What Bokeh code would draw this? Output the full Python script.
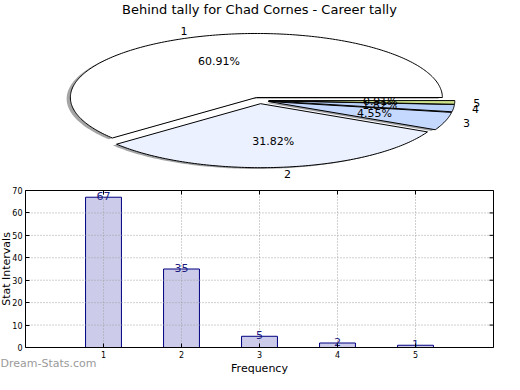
import numpy as np
from bokeh.plotting import figure
from bokeh.models import ColumnDataSource, Range1d, FixedTicker, Label
from bokeh.layouts import column
from bokeh.embed import file_html
from bokeh.resources import INLINE
from bokeh.core.properties import value

# ---------------- data ----------------
title_text = "Behind tally for Chad Cornes - Career tally"
categories = ["1", "2", "3", "4", "5"]
counts = [67, 35, 5, 2, 1]
slice_colors = ["#ffffff", "#ebf1ff", "#c5d8fd", "#b9d1f9", "#cfe38a"]
bar_x = [1, 2, 3, 4, 5]
x_ticks = [1, 2, 3, 4, 5]
y_ticks = [0, 10, 20, 30, 40, 50, 60, 70]
x_lim = (0, 6)
y_lim = (0, 70)
x_axis_title = "Frequency"
y_axis_title = "Stat Intervals"
watermark = "Dream-Stats.com"

FONT = "DejaVu Sans"
W = 504
H1 = 180
H2 = 194

# ---------------- pie ----------------
explode = 0.05
rx_px, ry_px = 186.0, 64.0
cx_px, cy_px = 259.0, 100.0

p1 = figure(width=W, height=H1, output_backend="svg", toolbar_location=None,
            x_range=Range1d(-cx_px / rx_px, (W - cx_px) / rx_px),
            y_range=Range1d(-(H1 - cy_px) / ry_px, cy_px / ry_px),
            x_axis_type=None, y_axis_type=None,
            min_border_left=0, min_border_right=0, min_border_top=0, min_border_bottom=0)
p1.grid.visible = False
p1.outline_line_color = None
p1.background_fill_color = "white"
p1.border_fill_color = "white"

total = float(sum(counts))
fracs = [c / total for c in counts]
edges = np.concatenate([[0.0], np.cumsum(fracs)]) * 2 * np.pi

wx, wy, sx, sy, shadow_cols = [], [], [], [], []
lab_x, lab_y, lab_align = [], [], []
pct_x, pct_y, pct_txt = [], [], []
for i, c in enumerate(counts):
    t1, t2 = edges[i], edges[i + 1]
    tm = 0.5 * (t1 + t2)
    ox, oy = explode * np.cos(tm), explode * np.sin(tm)
    n = max(int(np.degrees(t2 - t1)), 2) + 2
    arc = np.linspace(t1, t2, n)
    xs = [ox] + list(ox + np.cos(arc)) + [ox]
    ys = [oy] + list(oy + np.sin(arc)) + [oy]
    wx.append(xs)
    wy.append(ys)
    sx.append([v - 0.02 for v in xs])
    sy.append([v - 0.02 for v in ys])
    h = slice_colors[i].lstrip("#")
    r, g, b = (int(h[k:k + 2], 16) for k in (0, 2, 4))
    shadow_cols.append("#%02x%02x%02x" % (int(r * 0.3), int(g * 0.3), int(b * 0.3)))
    xt = ox + 1.1 * np.cos(tm)
    yt = oy + 1.1 * np.sin(tm)
    lab_x.append(xt)
    lab_y.append(yt)
    lab_align.append("left" if xt > 0 else "right")
    pct_x.append(ox + 0.6 * np.cos(tm))
    pct_y.append(oy + 0.6 * np.sin(tm))
    pct_txt.append("%.2f%%" % (100.0 * c / total))

p1.patches(xs="xs", ys="ys", fill_color="c", fill_alpha=0.5, line_color=None,
           source=ColumnDataSource(dict(xs=sx, ys=sy, c=shadow_cols)))
p1.patches(xs="xs", ys="ys", fill_color="c", line_color="black", line_width=1,
           source=ColumnDataSource(dict(xs=wx, ys=wy, c=slice_colors)))

p1.text(x="x", y="y", text="t", text_align="a", text_baseline="middle",
        text_font=value(FONT), text_font_size="11px", text_color="black",
        source=ColumnDataSource(dict(x=lab_x, y=lab_y, t=categories, a=lab_align)))
p1.text(x="x", y="y", text="t", text_align="center", text_baseline="middle",
        text_font=value(FONT), text_font_size="11px", text_color="black",
        source=ColumnDataSource(dict(x=pct_x, y=pct_y, t=pct_txt)))

p1.add_layout(Label(x=0.0, y=(cy_px - 1) / ry_px, text=title_text,
                    text_align="center", text_baseline="top",
                    text_font=FONT, text_font_size="13px", text_color="black"))

# ---------------- bars ----------------
# the frame covers the whole canvas; the axes are pinned at x=0 / y=0 so that
# tick labels, axis titles and the watermark all live inside the frame
bx0, bx1 = 25.0, 493.0          # pixel span of the bar box
by0, by1 = 10.0, 167.0          # pixel span (from canvas top) of the bar box
kx = (bx1 - bx0) / (x_lim[1] - x_lim[0])
ky = (by1 - by0) / (y_lim[1] - y_lim[0])

p2 = figure(width=W, height=H2, output_backend="svg", toolbar_location=None,
            x_range=Range1d(x_lim[0] - bx0 / kx, x_lim[1] + (W - bx1) / kx),
            y_range=Range1d(y_lim[0] - (H2 - by1) / ky, y_lim[1] + by0 / ky),
            min_border_left=0, min_border_right=0, min_border_top=0, min_border_bottom=0)
p2.outline_line_color = None
p2.background_fill_color = "white"
p2.border_fill_color = "white"
p2.grid.visible = False

p2.vbar(x=bar_x, top=counts, width=0.46, bottom=0,
        fill_color="#ccccea", line_color="#000080", line_width=1)

# dotted grid, drawn over the bars
p2.segment(x0=x_ticks, y0=[y_lim[0]] * len(x_ticks), x1=x_ticks, y1=[y_lim[1]] * len(x_ticks),
           line_color="#a0a0a0", line_dash="1 2", line_width=1)
p2.segment(x0=[x_lim[0]] * (len(y_ticks) - 2), y0=y_ticks[1:-1],
           x1=[x_lim[1]] * (len(y_ticks) - 2), y1=y_ticks[1:-1],
           line_color="#a0a0a0", line_dash="1 2", line_width=1)

p2.text(x=bar_x, y=counts, text=[str(c) for c in counts],
        text_align="center", text_baseline="alphabetic", y_offset=-1,
        text_font=value(FONT), text_font_size="11px", text_color="#1c1c80")

# inner ticks on the right and top edges
p2.ray(x=[x_lim[1]] * len(y_ticks), y=y_ticks, length=4, length_units="screen",
       angle=np.pi, line_color="black", line_width=1)
p2.ray(x=x_ticks, y=[y_lim[1]] * len(x_ticks), length=4, length_units="screen",
       angle=-np.pi / 2, line_color="black", line_width=1)

# box
p2.quad(left=[x_lim[0]], right=[x_lim[1]], bottom=[y_lim[0]], top=[y_lim[1]],
        fill_color=None, line_color="black", line_width=1)

xa = p2.xaxis[0]
ya = p2.yaxis[0]
xa.ticker = FixedTicker(ticks=x_ticks)
ya.ticker = FixedTicker(ticks=y_ticks)
xa.fixed_location = y_lim[0]
ya.fixed_location = x_lim[0]
xa.bounds = x_lim
ya.bounds = y_lim
for ax in (xa, ya):
    ax.axis_line_color = None
    ax.major_tick_in = 4
    ax.major_tick_out = 0
    ax.minor_tick_line_color = None
    ax.major_label_text_font = FONT
    ax.major_label_text_font_size = "8px"
    ax.major_label_text_color = "black"
    ax.major_label_standoff = 3
    ax.axis_label_text_font = FONT
    ax.axis_label_text_font_size = "11px"
    ax.axis_label_text_font_style = "normal"
    ax.axis_label_text_color = "black"
    ax.axis_label_standoff = 1
ya.axis_label_standoff = -4
xa.axis_label = x_axis_title
ya.axis_label = y_axis_title

p2.text(x=[x_lim[0] - bx0 / kx], y=[y_lim[0] - 16.0 / ky], text=[watermark],
        text_align="left", text_baseline="alphabetic",
        text_font=value(FONT), text_font_size="11px", text_color="#9a9a9a")

layout = column(p1, p2, spacing=0)
open("out.html", "w").write(file_html(layout, INLINE))
